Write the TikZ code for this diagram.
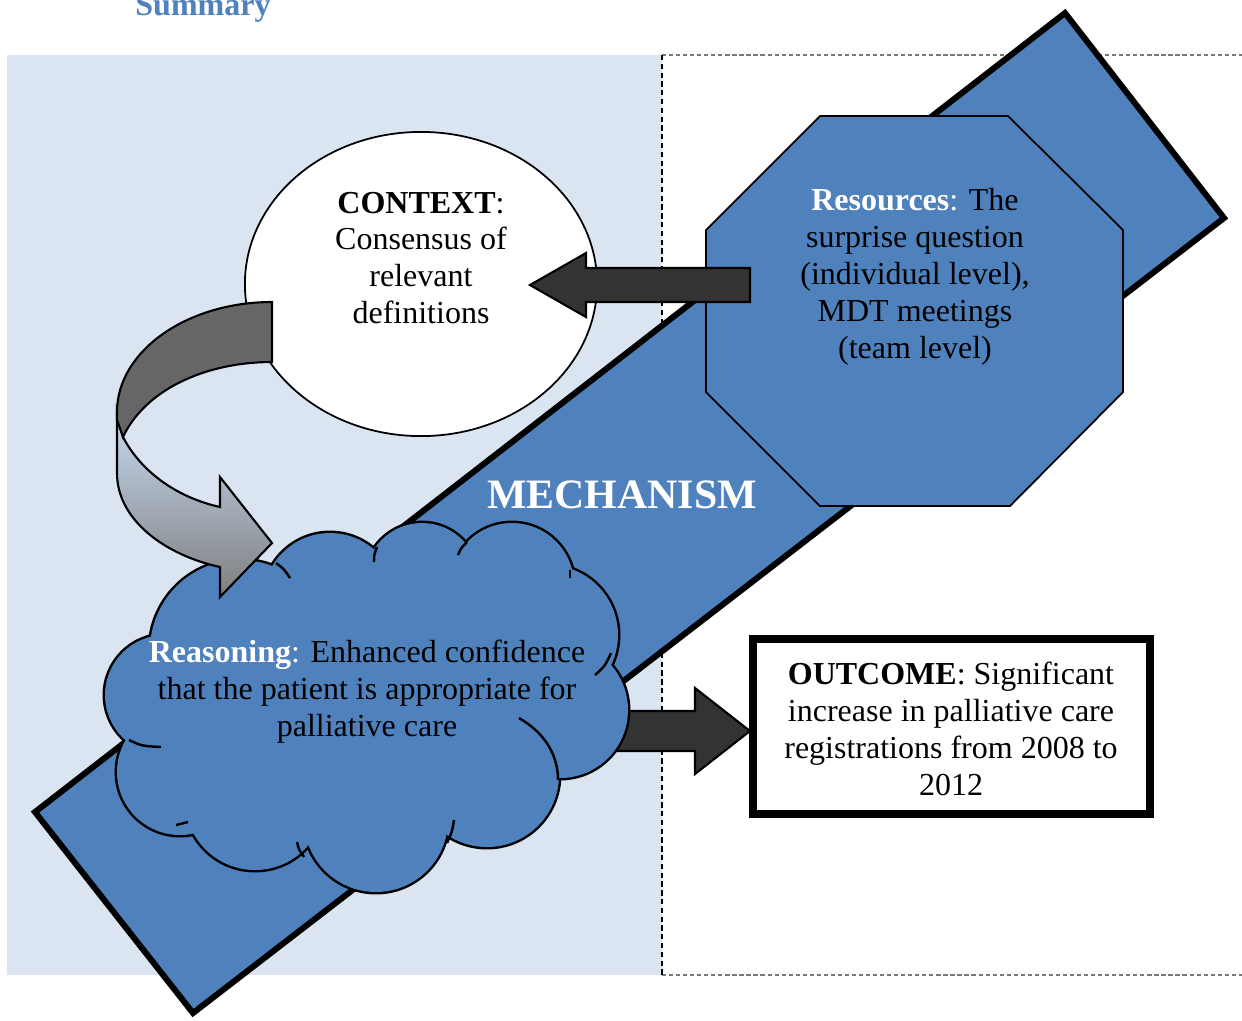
\documentclass[tikz,border=0pt]{standalone}
\usepackage{fontspec}
\setmainfont{Liberation Serif}
\definecolor{panelblue}{RGB}{219,229,241}
\definecolor{bandblue}{RGB}{79,129,189}
\definecolor{arrowdark}{RGB}{51,51,51}
\definecolor{ribbondark}{RGB}{102,102,102}
\definecolor{ribbontop}{RGB}{198,217,241}
\definecolor{ribbonbot}{RGB}{127,127,127}
\definecolor{framegray}{RGB}{120,120,120}

\tikzset{
  bodytext/.style={font=\fontsize{9.1}{10.5}\selectfont, align=center, inner sep=0pt},
  bandshape/.style={fill=bandblue, draw=black, line width=0.06cm, line join=miter},
  octshape/.style={fill=bandblue, draw=black, line width=0.5pt},
  blockarrow/.style={fill=arrowdark, draw=black, line width=0.6pt, line join=miter},
  cloudline/.style={draw=black, line width=0.7pt},
}

\begin{document}
\begin{tikzpicture}[x=0.01cm, y=-0.01cm]
\useasboundingbox (0,0) rectangle (1242,1020);
\clip (0,0) rectangle (1242,1020);
\fill[white] (0,0) rectangle (1242,1020);

% title
\node[font=\fontsize{9.1}{10.5}\selectfont\bfseries, text=bandblue, anchor=base, inner sep=0pt] (title) at (203,15) {Summary};

% shaded left panel and dotted right panel
\fill[panelblue] (7,55) rectangle (662,975);
\draw[framegray, dash pattern=on 1.2pt off 0.8pt, line width=0.5pt] (662,55) -- (1242,55) (662,975) -- (1242,975);
\draw[black, dash pattern=on 1.5pt off 1pt, line width=0.4pt] (662,55) -- (662,975);

% diagonal mechanism band
\draw[bandshape] (35,812) -- (1065,13) -- (1224,218) -- (193,1013) -- cycle;

% resources octagon
\draw[octshape] (820,116) -- (1008,116) -- (1123,230) -- (1123,392) -- (1010,506) -- (820,506) -- (706,392) -- (706,230) -- cycle;
\coordinate (resources) at (915,277);

% context ellipse
\draw[fill=white, draw=black, line width=0.5pt] (421,284) ellipse [x radius=1.76cm, y radius=1.52cm];
\coordinate (context) at (421,258);

% arrow from resources to context
\draw[blockarrow] (750,268) -- (586,268) -- (586,253) -- (530,285) -- (586,317) -- (586,302) -- (750,302) -- cycle;

% arrow from reasoning to outcome
\draw[blockarrow] (600,711) -- (695,711) -- (695,688) -- (750,731) -- (695,774) -- (695,751) -- (600,751) -- cycle;

% reasoning cloud: union of puffs
\def\puffs{165/695/60, 180/772/63, 255/800/70, 376/820/72, 487/775/72, 560/710/68, 548/635/70, 512/585/62, 422/580/57, 330/600/67, 240/650/90}
\foreach \cx/\cy/\r in \puffs { \draw[black, line width=1.4pt] (\cx,\cy) circle[radius=\r*0.01cm]; }
\foreach \cx/\cy/\r in \puffs { \fill[bandblue] (\cx,\cy) circle[radius=\r*0.01cm]; }
\fill[bandblue] (370,700) ellipse [x radius=1.7cm, y radius=1.0cm];
% inner puff lines
\draw[cloudline] (129,740) .. controls (142,746) .. (161,747);
\draw[cloudline] (176,825) -- (188,822);
\draw[cloudline] (297,842) .. controls (299,850) .. (304,857);
\draw[cloudline] (454,820) .. controls (452,832) .. (447,843);
\draw[cloudline] (519,718) .. controls (545,733) and (558,755) .. (558,780);
\draw[cloudline] (595,675) .. controls (605,666) .. (611,653);
\draw[cloudline] (570,570) -- (570,578);
\draw[cloudline] (458,555) .. controls (461,548) .. (467,542);
\draw[cloudline] (374,562) .. controls (374,555) .. (377,547);
\draw[cloudline] (276,563) .. controls (284,569) .. (290,578);
\coordinate (reasoning) at (367,692);

% curved ribbon arrow from context to reasoning
\draw[top color=ribbontop, bottom color=ribbonbot, draw=black, line width=0.6pt, line join=miter]
  (117,412) -- (117,473) .. controls (117,520) and (165,555) .. (220,567)
  -- (220,597) -- (272,543) -- (220,477) -- (220,507)
  .. controls (175,497) and (140,470) .. (123,437) -- cycle;
\draw[fill=ribbondark, draw=black, line width=0.6pt, line join=miter]
  (272,302) .. controls (187,302) and (117,351) .. (117,412)
  -- (117,420) -- (123,437)
  .. controls (145,390) and (205,362) .. (272,362) -- cycle;

% outcome box
\draw[fill=white, draw=black, line width=0.08cm] (753,639) rectangle (1150,814);
\coordinate (outcome) at (951,729);

% texts
\node[bodytext] (contexttext) at (context) {\textbf{CONTEXT}:\\Consensus of\\relevant\\definitions};
\node[bodytext] (resourcestext) at (resources) {\textcolor{white}{\textbf{Resources}:} The\\surprise question\\(individual level),\\MDT meetings\\(team level)};
\node[font=\fontsize{11.9}{13}\selectfont\bfseries, text=white, inner sep=0pt] (mechanism) at (622,495) {MECHANISM};
\node[bodytext] (reasoningtext) at (reasoning) {\textcolor{white}{\textbf{Reasoning}:} Enhanced confidence\\that the patient is appropriate for\\palliative care};
\node[bodytext] (outcometext) at (outcome) {\textbf{OUTCOME}: Significant\\increase in palliative care\\registrations from 2008 to\\2012};
\end{tikzpicture}
\end{document}
